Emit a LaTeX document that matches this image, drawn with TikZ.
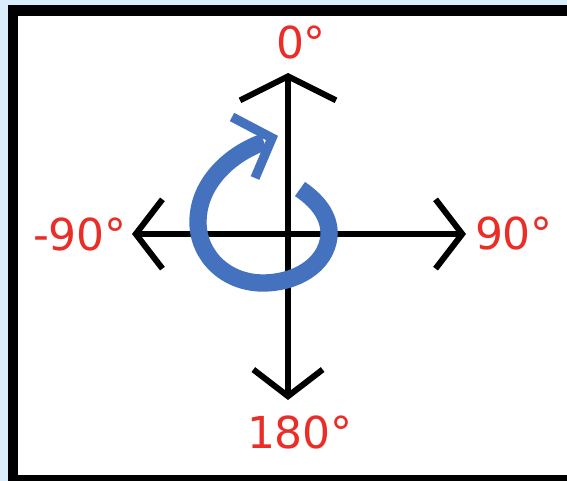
\documentclass[tikz,border=0pt]{standalone}
\usepackage{fontspec}
\setmainfont{DejaVu Sans}
\usetikzlibrary{arrows.meta}
\definecolor{PageBg} {RGB}{217,238,250}
\definecolor{LblRed} {RGB}{235,45,40}
\definecolor{TurnBlue}{RGB}{68,114,190}
\tikzset{
  ax_arr/.style={-{Straight Barb[length=20pt,width=52pt]},line width=4.5pt},
  ax_up/.style={-{Straight Barb[length=18pt,width=72pt]},line width=4.5pt},
  lbl/.style={text=LblRed,font=\fontsize{33}{36}\selectfont,inner sep=0pt},
  turn/.style={draw=TurnBlue,line width=13pt},
  turn_tip/.style={draw=TurnBlue,line width=7pt,miter limit=20},
}
\begin{document}
\begin{tikzpicture}[x=0.75pt,y=-0.75pt]
\useasboundingbox (0,0) rectangle (567,481);
% frame
\fill[PageBg](0,0) rectangle (567,481);
\fill[black](8,5) rectangle (567,481);
\fill[white](18,16) rectangle (567,475);
% axes
\coordinate (O) at (288,234);
\coordinate (N) at (288,73);
\coordinate (S) at (288,400);
\coordinate (W) at (132,234);
\coordinate (E) at (466,234);
\draw[ax_up](O)--(N);
\draw[ax_arr](O)--(S);
\draw[ax_arr](O)--(W);
\draw[ax_arr](O)--(E);
% labels
\node[lbl] at (301,42)(L0){0°};
\node[lbl] at (300,432)(L180){180°};
\node[lbl] at (80,234)(Lm90){-90°};
\node[lbl] at (514,233)(L90){90°};
% turning arrow
\coordinate (T) at (272,138);
\draw[turn](300,189) .. controls (322,204) and (330,220) .. (329,236)
  .. controls (326,266) and (295,283) .. (263,283)
  .. controls (226,283) and (198,256) .. (198,222)
  .. controls (198,182) and (232,153) .. (264,142);
\draw[turn_tip](232,117)--(T)--(255,178);
\end{tikzpicture}
\end{document}
